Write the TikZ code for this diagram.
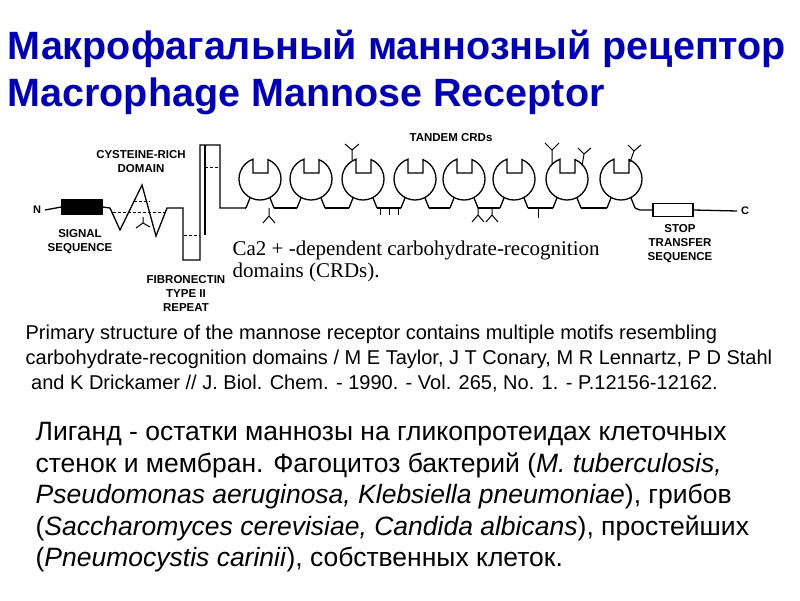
\documentclass[tikz,border=0pt]{standalone}
\usepackage{fontspec}
\setmainfont{Liberation Sans}
\newfontfamily\serifx{Liberation Serif}
\definecolor{titleblue}{RGB}{0,0,176}
\begin{document}
\begin{tikzpicture}[x=1pt,y=1pt,line width=1.3pt,
  lbl/.style={font=\bfseries\fontsize{11.5}{14}\selectfont,align=center,inner sep=0},
  dsh/.style={line width=1pt,dash pattern=on 3pt off 2pt}]
\useasboundingbox (0,0) rectangle (800,-600);
% titles
\node[anchor=west,text=titleblue,font=\bfseries\fontsize{39.5}{44}\selectfont,inner sep=0] (t1) at (7,-49) {Макрофагальный маннозный рецептор};
\node[anchor=west,text=titleblue,font=\bfseries\fontsize{39.5}{44}\selectfont,inner sep=0] (t2) at (7,-96) {Macrophage Mannose Receptor};
% N-terminal part
\node[font=\bfseries\fontsize{11}{12}\selectfont] (N) at (37,-210) {N};
\node[draw,fill=black,minimum width=40pt,minimum height=14pt,inner sep=0] (sig) at (82,-207) {};
\draw (N.east) -- (sig.west);
\draw (sig.east) -- (110,-208) -- (120,-230) -- (142,-185) -- (156,-236) -- (167,-208) -- (183,-208)
  -- (183,-260) -- (200,-260) -- (200,-145) -- (220,-145) -- (220,-208) -- (245,-208);
\draw (205,-145) -- (205,-235);
\draw[dsh] (113,-212) -- (165,-212);
\draw[dsh] (134,-201) -- (150,-201);
\draw[dsh] (184,-235) -- (200,-235);
\draw[dsh] (205,-167) -- (220,-167);
\draw[line width=1pt] (143,-217) -- (143,-223) -- (136,-228) (143,-223) -- (150,-227);
% CRDs
\foreach \c [count=\i] in {260,311,363,415,464,514,567,621}{
  \draw ([shift={(\c,-179)}]67.6:21) arc[start angle=67.6,end angle=-250.5,radius=21]
     -- (\c-7,-173) -- (\c+8,-173) -- cycle;
  \draw ([shift={(\c,-179)}]-118:21) -- (\c-14,-208);
  \draw ([shift={(\c,-179)}]-62:21) -- (\c+14,-208);
}
\foreach \a/\b in {245/246,274/297,325/349,377/401,429/450,478/500,528/553,581/607}{
  \draw (\a,-208) -- (\b,-208);}
\node[draw,minimum width=40pt,minimum height=13pt,inner sep=0,line width=1.2pt] (stop) at (673,-210) {};
\draw (635,-208) -- (640,-210) -- (stop.west);
\node[font=\bfseries\fontsize{11}{12}\selectfont] (C) at (745,-211) {C};
\draw (stop.east) -- (C.west);
% glycosylation marks
\begin{scope}[line width=1pt]
\draw (269,-208) -- (269,-216) -- (263,-223) (269,-216) -- (275,-223);
\draw (352,-160) -- (352,-150) -- (345,-144) (352,-150) -- (359,-144);
\foreach \x in {380,389,398} \draw (\x,-208) -- (\x,-215);
\foreach \x in {478,492} \draw (\x,-208) -- (\x,-215) -- (\x-6,-222) (\x,-215) -- (\x+6,-222);
\draw (538,-208) -- (538,-218);
\draw (552,-164) -- (552,-150) -- (545,-143) (552,-150) -- (559,-143);
\draw (582,-166) -- (584,-154) -- (578,-148) (584,-154) -- (591,-148);
\draw (630,-162) -- (634,-151) -- (628,-145) (634,-151) -- (641,-145);
\end{scope}
% labels
\node[lbl] (lcys) at (141,-162) {CYSTEINE-RICH\\DOMAIN};
\node[lbl] (lsig) at (80,-242) {SIGNAL\\SEQUENCE};
\node[lbl] (lfib) at (186,-293) {FIBRONECTIN\\TYPE II\\REPEAT};
\node[lbl] (ltan) at (451,-138) {TANDEM CRDs};
\node[lbl] (lstop) at (680,-244) {STOP\\TRANSFER\\SEQUENCE};
\node[anchor=north west,inner sep=0,align=left,font=\serifx\fontsize{21}{22}\selectfont] (ca) at (232,-240) {Ca2 + -dependent carbohydrate-recognition\\domains (CRDs).};
% reference
\node[anchor=north west,inner sep=0,align=left,font=\fontsize{20}{25}\selectfont] (ref) at (25,-324)
 {Primary structure of the mannose receptor contains multiple motifs resembling\\
  carbohydrate-recognition domains / M E Taylor, J T Conary, M R Lennartz, P D Stahl\\
  \ and K Drickamer // J. Biol. Chem. - 1990. - Vol. 265, No. 1. - P.12156-12162.};
% russian paragraph
\node[anchor=north west,inner sep=0,align=left,font=\fontsize{26.5}{31.5}\selectfont] (rus) at (35,-422)
 {Лиганд - остатки маннозы на гликопротеидах клеточных\\
  стенок и мембран. Фагоцитоз бактерий (\textit{M. tuberculosis,}\\
  \textit{Pseudomonas aeruginosa, Klebsiella pneumoniae}), грибов\\
  (\textit{Saccharomyces cerevisiae, Candida albicans}), простейших\\
  (\textit{Pneumocystis carinii}), собственных клеток.};
\end{tikzpicture}
\end{document}
